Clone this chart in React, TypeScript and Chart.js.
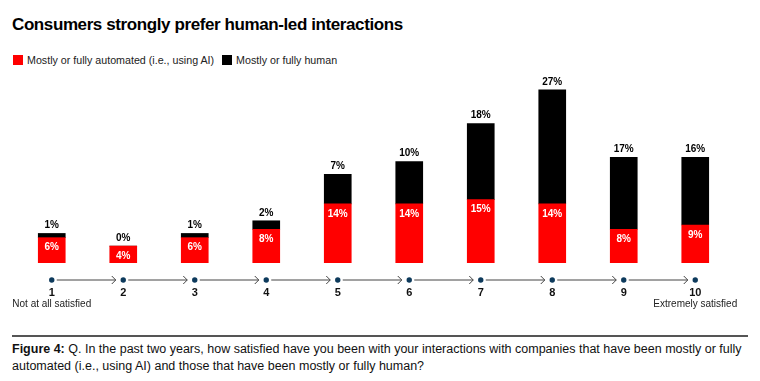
import React, { useEffect, useRef } from "react";
import { Chart, registerables } from "chart.js";

Chart.register(...registerables);

const categories = ["1", "2", "3", "4", "5", "6", "7", "8", "9", "10"];
const automated = [6, 4, 6, 8, 14, 14, 15, 14, 8, 9];
const human = [1, 0, 1, 2, 7, 10, 18, 27, 17, 16];
const endLabels = ["Not at all satisfied", "Extremely satisfied"];
const seriesNames = ["Mostly or fully automated (i.e., using AI)", "Mostly or fully human"];

const RED = "#ff0000";
const BLACK = "#000000";
const FONT = "'Liberation Sans', Arial, Helvetica, sans-serif";

const overlayPlugin = {
  id: "overlay",
  afterDatasetsDraw(chart: any) {
    const ctx = chart.ctx;
    ctx.save();
    ctx.textAlign = "center";
    ctx.textBaseline = "middle";
    ctx.font = `bold 10px ${FONT}`;
    const m0 = chart.getDatasetMeta(0);
    const m1 = chart.getDatasetMeta(1);
    m0.data.forEach((el: any, i: number) => {
      ctx.fillStyle = "#ffffff";
      ctx.fillText(`${automated[i]}%`, el.x, el.y + 10);
    });
    m1.data.forEach((el: any, i: number) => {
      ctx.fillStyle = "#000000";
      ctx.fillText(`${human[i]}%`, el.x, el.y - 8);
    });

    // axis with dots and arrows
    const xs = chart.scales.x;
    const base = chart.chartArea.bottom;
    const ay = base + 16.5;
    const pts = categories.map((_, i) => xs.getPixelForValue(i));
    ctx.strokeStyle = "#444444";
    ctx.lineWidth = 1;
    for (let i = 0; i < pts.length - 1; i++) {
      const x1 = pts[i] + 5;
      const x2 = pts[i + 1] - 7.5;
      ctx.beginPath();
      ctx.moveTo(x1, ay + 0.5);
      ctx.lineTo(x2, ay + 0.5);
      ctx.stroke();
      ctx.beginPath();
      ctx.moveTo(x2 - 4, ay - 3.5);
      ctx.lineTo(x2, ay + 0.5);
      ctx.lineTo(x2 - 4, ay + 4.5);
      ctx.stroke();
    }
    ctx.fillStyle = "#0d3a5c";
    pts.forEach((x) => {
      ctx.beginPath();
      ctx.arc(x, ay + 0.5, 2.7, 0, Math.PI * 2);
      ctx.fill();
    });
    ctx.fillStyle = "#111111";
    ctx.font = `bold 11px ${FONT}`;
    pts.forEach((x, i) => {
      ctx.fillText(categories[i], x, ay + 13);
    });
    ctx.font = `10px ${FONT}`;
    ctx.fillStyle = "#222222";
    ctx.fillText(endLabels[0], pts[0], ay + 25);
    ctx.fillText(endLabels[1], pts[pts.length - 1], ay + 25);
    ctx.restore();
  },
};

export default function App() {
  const ref = useRef<HTMLCanvasElement | null>(null);

  useEffect(() => {
    document.body.style.margin = "0";
    const chart = new Chart(ref.current as HTMLCanvasElement, {
      type: "bar",
      data: {
        labels: categories,
        datasets: [
          { label: seriesNames[0], data: automated, backgroundColor: RED, barThickness: 27 },
          { label: seriesNames[1], data: human, backgroundColor: BLACK, barThickness: 27 },
        ],
      },
      options: {
        responsive: false,
        animation: false,
        devicePixelRatio: 1,
        layout: { padding: { left: 16, right: 29, top: 3, bottom: 67 } },
        plugins: { legend: { display: false }, tooltip: { enabled: false } },
        scales: {
          x: { stacked: true, display: false, offset: true },
          y: { stacked: true, display: false, min: 0, max: 45 },
        },
      },
      plugins: [overlayPlugin],
    });
    return () => chart.destroy();
  }, []);

  const sq = (c: string) => (
    <span style={{ display: "inline-block", width: 10, height: 10, background: c, marginRight: 4, verticalAlign: "-1px" }} />
  );

  return (
    <div style={{ position: "relative", width: 760, height: 381, background: "#fff", fontFamily: FONT, overflow: "hidden" }}>
      <div style={{ position: "absolute", left: 12, top: 15, fontSize: 17, fontWeight: "bold", color: "#000", letterSpacing: "-0.4px", whiteSpace: "nowrap" }}>
        Consumers strongly prefer human-led interactions
      </div>
      <div style={{ position: "absolute", left: 13, top: 54, fontSize: 10.7, color: "#222", whiteSpace: "nowrap" }}>
        {sq(RED)}
        <span style={{ marginRight: 8 }}>{seriesNames[0]}</span>
        {sq(BLACK)}
        <span>{seriesNames[1]}</span>
      </div>
      <canvas ref={ref} width={760} height={260} style={{ position: "absolute", left: 0, top: 70 }} />
      <div style={{ position: "absolute", left: 12, top: 335, width: 736, height: 2, background: "#555" }} />
      <div style={{ position: "absolute", left: 12, top: 341, width: 740, fontFamily: "'Liberation Sans Narrow', 'Arial Narrow', sans-serif", fontSize: 12.5, lineHeight: "17px", color: "#111" }}>
        <b>Figure 4:</b> Q. In the past two years, how satisfied have you been with your interactions with companies that have been mostly or fully automated (i.e., using AI) and those that have been mostly or fully human?
      </div>
    </div>
  );
}
